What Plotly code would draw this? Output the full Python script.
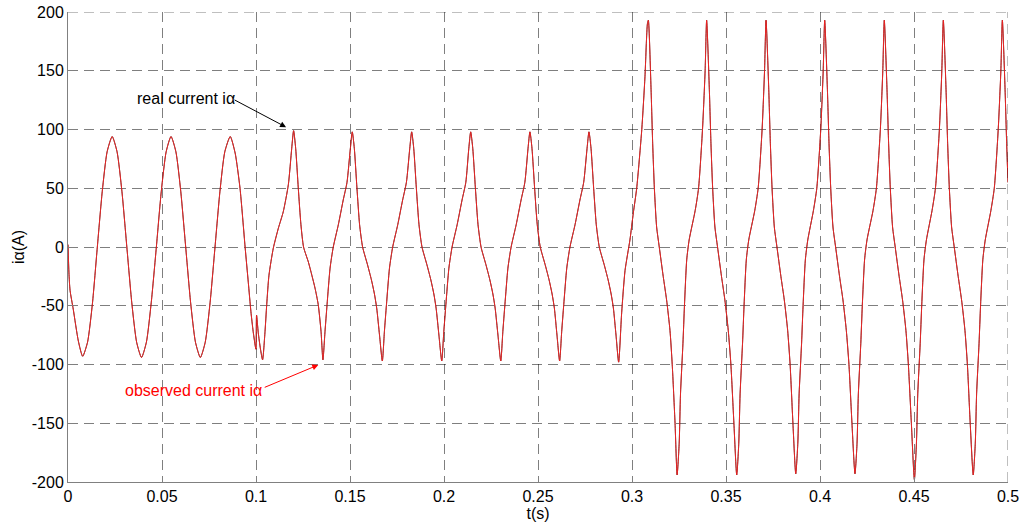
import plotly.graph_objects as go

# ---------------- data ----------------
# phase 1: sinusoidal current (0 .. 0.12 s), including the notch at t = 0.1 s
t_sine = [0.0000, 0.0005, 0.0011, 0.0028, 0.0055, 0.0078, 0.0104, 0.0130, 0.0156, 0.0182,
          0.0208, 0.0235, 0.0261, 0.0287, 0.0313, 0.0339, 0.0365, 0.0391, 0.0417, 0.0443,
          0.0470, 0.0496, 0.0522, 0.0548, 0.0574, 0.0600, 0.0626, 0.0652, 0.0678, 0.0704,
          0.0730, 0.0756, 0.0782, 0.0808, 0.0834, 0.0863, 0.0889, 0.0915, 0.0942, 0.0959,
          0.0973, 0.0985, 0.0998, 0.1000, 0.1003, 0.1012, 0.1024, 0.1035, 0.1048, 0.1057,
          0.1069, 0.1092, 0.1119, 0.1145, 0.1172, 0.1190]
i_sine = [2, -22, -37, -53, -80, -93, -81, -48, 0, 47,
          81, 94, 81, 47, 0, -47, -81, -94, -81, -47,
          0, 47, 81, 94, 81, 47, 0, -47, -81, -94,
          -81, -47, 0, 47, 81, 94, 80, 50, 0, -30,
          -55, -72, -86, -87, -58, -73, -87, -96, -72, -49,
          -24, -1, 16, 30, 53, 84]

# phase 2: distorted current, amplitude about 98 A (0.12 .. 0.293 s)
t_distorted = [0.1200, 0.1211, 0.1225, 0.1239, 0.1253, 0.1279, 0.1297, 0.1314, 0.1331, 0.1346, 0.1356,
               0.1367, 0.1378, 0.1394, 0.1411, 0.1438, 0.1464, 0.1484, 0.1502,
               0.1512, 0.1523, 0.1537, 0.1551, 0.1567, 0.1593, 0.1614, 0.1630, 0.1642, 0.1657, 0.1672,
               0.1683, 0.1694, 0.1710, 0.1727, 0.1754, 0.1780, 0.1800, 0.1818,
               0.1828, 0.1839, 0.1853, 0.1867, 0.1883, 0.1909, 0.1930, 0.1946, 0.1958, 0.1973, 0.1988,
               0.1999, 0.2010, 0.2026, 0.2043, 0.2070, 0.2096, 0.2116, 0.2132,
               0.2142, 0.2153, 0.2167, 0.2181, 0.2197, 0.2223, 0.2244, 0.2260, 0.2272, 0.2287, 0.2302,
               0.2313, 0.2324, 0.2340, 0.2357, 0.2384, 0.2410, 0.2430, 0.2447,
               0.2457, 0.2468, 0.2482, 0.2496, 0.2512, 0.2538, 0.2559, 0.2575, 0.2587, 0.2601, 0.2615,
               0.2626, 0.2637, 0.2653, 0.2670, 0.2697, 0.2723, 0.2743, 0.2761,
               0.2771, 0.2782, 0.2796, 0.2810, 0.2826, 0.2852, 0.2873, 0.2889, 0.2901, 0.2915, 0.2929]
i_distorted = [99, 84, 50, 19, 0, -13, -24, -35, -49, -72, -96,
               -72, -49, -18, 0, 19, 40, 55, 84,
               98, 84, 50, 19, 0, -15, -28, -40, -52, -75, -97,
               -72, -49, -18, 0, 19, 40, 55, 84,
               98, 84, 50, 19, 0, -15, -28, -40, -52, -75, -97,
               -72, -49, -18, 0, 19, 40, 55, 84,
               98, 84, 50, 19, 0, -15, -28, -40, -52, -75, -97,
               -72, -49, -18, 0, 19, 40, 55, 84,
               98, 84, 50, 19, 0, -15, -28, -40, -52, -75, -97,
               -72, -49, -18, 0, 19, 40, 55, 84,
               98, 84, 50, 19, 0, -15, -28, -40, -52, -75, -98]

# phase 3: high current, amplitude about 193 A (0.293 .. 0.5 s)
t_high = [0.2945, 0.2963, 0.2989, 0.3007, 0.3025, 0.3052, 0.3069, 0.3082,
          0.3087, 0.3101, 0.3110, 0.3119, 0.3131, 0.3145, 0.3166, 0.3184, 0.3202, 0.3214, 0.3229, 0.3240,
          0.3251, 0.3258, 0.3271, 0.3279, 0.3291, 0.3304, 0.3336, 0.3354, 0.3375, 0.3389,
          0.3397, 0.3411, 0.3420, 0.3429, 0.3441, 0.3455, 0.3476, 0.3494, 0.3512, 0.3526, 0.3542, 0.3557,
          0.3568, 0.3575, 0.3588, 0.3596, 0.3608, 0.3621, 0.3653, 0.3671, 0.3692, 0.3705,
          0.3713, 0.3727, 0.3736, 0.3745, 0.3757, 0.3771, 0.3792, 0.3810, 0.3828, 0.3841, 0.3856, 0.3871,
          0.3882, 0.3889, 0.3902, 0.3910, 0.3922, 0.3935, 0.3965, 0.3983, 0.4004, 0.4017,
          0.4025, 0.4039, 0.4048, 0.4057, 0.4069, 0.4083, 0.4104, 0.4122, 0.4140, 0.4154, 0.4170, 0.4186,
          0.4197, 0.4204, 0.4217, 0.4225, 0.4237, 0.4250, 0.4282, 0.4300, 0.4321, 0.4334,
          0.4342, 0.4356, 0.4365, 0.4374, 0.4386, 0.4400, 0.4421, 0.4439, 0.4457, 0.4470, 0.4486, 0.4502,
          0.4513, 0.4520, 0.4533, 0.4541, 0.4553, 0.4566, 0.4596, 0.4614, 0.4635, 0.4648,
          0.4656, 0.4670, 0.4679, 0.4688, 0.4700, 0.4714, 0.4735, 0.4753, 0.4771, 0.4784, 0.4799, 0.4815,
          0.4826, 0.4833, 0.4846, 0.4854, 0.4866, 0.4879, 0.4909, 0.4927, 0.4948, 0.4962,
          0.4970, 0.4984, 0.4993, 0.5000]
i_high = [-56, -20, 6, 29, 50, 100, 145, 190,
          193, 136, 88, 50, 17, 0, -25, -45, -71, -100, -150, -194,
          -167, -125, -82, -50, -11, 6, 31, 50, 100, 150,
          193, 136, 88, 50, 17, 0, -25, -45, -71, -100, -150, -194,
          -167, -125, -82, -50, -11, 6, 31, 50, 100, 150,
          193, 136, 88, 50, 17, 0, -25, -45, -71, -100, -150, -193,
          -167, -125, -82, -50, -11, 6, 31, 50, 100, 150,
          193, 136, 88, 50, 17, 0, -25, -45, -71, -100, -150, -193,
          -167, -125, -82, -50, -11, 6, 31, 50, 100, 150,
          193, 136, 88, 50, 17, 0, -25, -45, -71, -100, -150, -198,
          -167, -125, -82, -50, -11, 6, 31, 50, 100, 150,
          193, 136, 88, 50, 17, 0, -25, -45, -71, -100, -150, -194,
          -167, -125, -82, -50, -11, 6, 31, 50, 100, 150,
          193, 136, 88, 55]

x_ticks = [0, 0.05, 0.1, 0.15, 0.2, 0.25, 0.3, 0.35, 0.4, 0.45, 0.5]
x_labels = ["0", "0.05", "0.1", "0.15", "0.2", "0.25", "0.3", "0.35", "0.4", "0.45", "0.5"]
y_ticks = [-200, -150, -100, -50, 0, 50, 100, 150, 200]
y_labels = ["-200", "-150", "-100", "-50", "0", "50", "100", "150", "200"]

assert len(t_sine) == len(i_sine)
assert len(t_distorted) == len(i_distorted)
assert len(t_high) == len(i_high)

t_real = t_sine + t_distorted + t_high
i_real = i_sine + i_distorted + i_high
# the observer tracks the real current; the two curves lie on top of each other
t_obs = list(t_real)
i_obs = list(i_real)

FONT = "Liberation Sans, Arial, Helvetica, sans-serif"
GRID_COLOR = "rgba(0,0,0,0.5)"
GRID_DASH = "10px,6px"

fig = go.Figure()
fig.add_trace(go.Scatter(x=t_real, y=i_real, mode="lines", name="real current iα",
                         line=dict(color="black", width=0.8, shape="spline", smoothing=0.6)))
fig.add_trace(go.Scatter(x=t_obs, y=i_obs, mode="lines", name="observed current iα",
                         line=dict(color="#ff2020", width=0.9, shape="spline", smoothing=0.6)))

grid = dict(showgrid=True, gridcolor=GRID_COLOR, gridwidth=1, griddash=GRID_DASH,
            zeroline=False, showline=True, linecolor="#808080", linewidth=1,
            ticks="inside", ticklen=5, tickcolor="#808080", automargin=False,
            ticklabeloverflow="allow",
            tickfont=dict(family=FONT, size=16, color="black"), mirror=False)

fig.update_xaxes(range=[x_ticks[0], x_ticks[-1]], tickmode="array", tickvals=x_ticks, ticktext=x_labels,
                 title=dict(text="t(s)", font=dict(family=FONT, size=16, color="black"), standoff=2),
                 **grid)
fig.update_yaxes(range=[y_ticks[0], y_ticks[-1]], tickmode="array", tickvals=y_ticks, ticktext=y_labels,
                 title=dict(text="iα(A)", font=dict(family=FONT, size=16, color="black"), standoff=3),
                 **grid)

# dashed grid lines on the outer (top and right) edges, as in the reference
fig.add_hline(y=y_ticks[-1], line=dict(color=GRID_COLOR, width=1, dash=GRID_DASH))
fig.add_vline(x=x_ticks[-1], line=dict(color=GRID_COLOR, width=1, dash=GRID_DASH))

annotations = [
    dict(x=0.0356, y=126, xref="x", yref="y", text="real current iα", showarrow=False,
         xanchor="left", yanchor="middle", font=dict(family=FONT, size=16, color="black")),
    dict(x=0.116, y=102, xref="x", yref="y", text="", showarrow=True, ax=-53, ay=-28,
         arrowhead=2, arrowsize=1.2, arrowwidth=1, arrowcolor="black"),
    dict(x=0.0291, y=-121.7, xref="x", yref="y", text="observed current iα", showarrow=False,
         xanchor="left", yanchor="middle", font=dict(family=FONT, size=16, color="#ff0000")),
    dict(x=0.1331, y=-100.4, xref="x", yref="y", text="", showarrow=True, ax=-55, ay=23,
         arrowhead=2, arrowsize=1.2, arrowwidth=1, arrowcolor="#ff0000"),
]

fig.update_layout(width=1024, height=528, margin=dict(l=68, r=16, t=12, b=46),
                  paper_bgcolor="white", plot_bgcolor="white", showlegend=False,
                  annotations=annotations, font=dict(family=FONT, size=16, color="black"))

# remove the browser's default 8 px body margin so the figure fills the window exactly
fig.write_html("out.html", config={"displayModeBar": False},
               post_script="document.body.style.margin='0';document.body.style.overflow='hidden';")
